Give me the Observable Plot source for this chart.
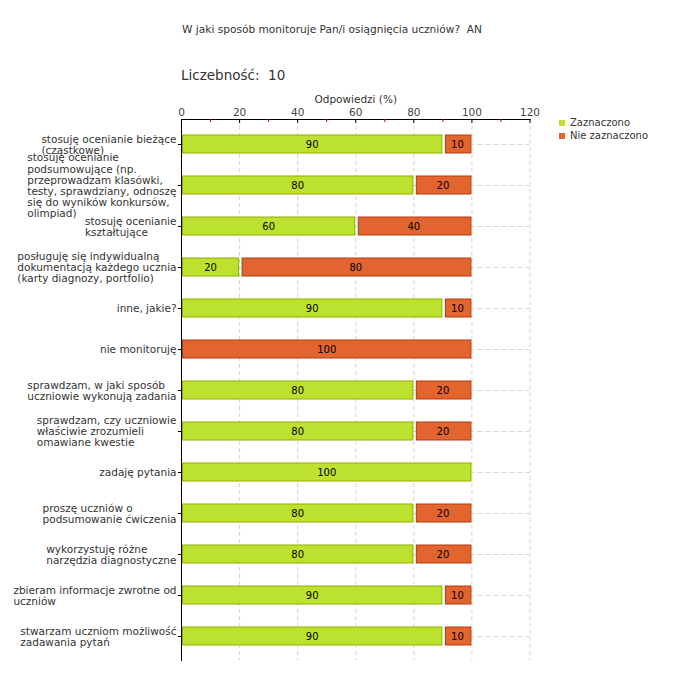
<!DOCTYPE html>
<html>
<head>
<meta charset="utf-8">
<script src="https://cdn.jsdelivr.net/npm/d3@7"></script>
<script src="https://cdn.jsdelivr.net/npm/@observablehq/plot@0.6"></script>
<style>
  body { margin: 0; background: #fff; font-family: "DejaVu Sans", sans-serif; }
  #wrap { position: relative; width: 680px; height: 680px; overflow: hidden; }
  #head { position: relative; height: 85px; }
  #title { position: absolute; left: 182px; top: 23px; font-size: 10.6px; color: #333; white-space: pre; }
  #count { position: absolute; left: 181px; top: 67px; font-size: 13.5px; color: #333; white-space: pre; }
  #legend { position: absolute; left: 559px; top: 117px; font-size: 10px; color: #333; line-height: 12.5px; }
  #legend .sw { display: inline-block; width: 6px; height: 6px; margin-right: 5px; vertical-align: 0px; }
</style>
</head>
<body>
<div id="wrap">
  <div id="head">
    <div id="title"></div>
    <div id="count"></div>
  </div>
  <div id="chart"></div>
  <div id="legend"></div>
</div>
<script>
const titleText = "W jaki sposób monitoruje Pan/i osiągnięcia uczniów?  AN";
const countText = "Liczebność:  10";
const xAxisLabel = "Odpowiedzi (%)";

const categories = [
  "stosuję ocenianie bieżące\n(cząstkowe)",
  "stosuję ocenianie\npodsumowujące (np.\nprzeprowadzam klasówki,\ntesty, sprawdziany, odnoszę\nsię do wyników konkursów,\nolimpiad)",
  "stosuję ocenianie\nkształtujące",
  "posługuję się indywidualną\ndokumentacją każdego ucznia\n(karty diagnozy, portfolio)",
  "inne, jakie?",
  "nie monitoruję",
  "sprawdzam, w jaki sposób\nuczniowie wykonują zadania",
  "sprawdzam, czy uczniowie\nwłaściwie zrozumieli\nomawiane kwestie",
  "zadaję pytania",
  "proszę uczniów o\npodsumowanie ćwiczenia",
  "wykorzystuję różne\nnarzędzia diagnostyczne",
  "zbieram informacje zwrotne od\nuczniów",
  "stwarzam uczniom możliwość\nzadawania pytań"
];
const zaznaczono    = [90, 80, 60, 20, 90,   0, 80, 80, 100, 80, 80, 90, 90];
const nieZaznaczono = [10, 20, 40, 80, 10, 100, 20, 20,   0, 20, 20, 10, 10];
const seriesNames = ["Zaznaczono", "Nie zaznaczono"];
const seriesFill = ["#bde12f", "#e2652f"];
const seriesStroke = ["#8fae00", "#b33a10"];
const xTicks = [0, 20, 40, 60, 80, 100, 120];
const xMinorTicks = [10, 30, 50, 70, 90, 110];
const xGrid = [20, 40, 60, 80, 100, 120];

document.getElementById("title").textContent = titleText;
document.getElementById("count").textContent = countText;
document.getElementById("legend").innerHTML = seriesNames.map((n, i) =>
  `<div><span class="sw" style="background:${seriesFill[i]}"></span>${n}</div>`).join("");

const rows = categories.map((c, i) => ({cat: c, a: zaznaczono[i], b: nieZaznaczono[i]}));
const greenRows = rows.filter(d => d.a > 0);
const orangeAfter = rows.filter(d => d.b > 0 && d.a > 0);
const orangeAlone = rows.filter(d => d.b > 0 && d.a === 0);

const gridStyle = {stroke: "#d4d4d4", strokeOpacity: 1, strokeDasharray: "5,3"};

const chart = Plot.plot({
  width: 680,
  height: 595,
  marginTop: 34,
  marginBottom: 20,
  marginLeft: 181,
  marginRight: 150.5,
  style: {fontFamily: "DejaVu Sans, sans-serif", fontSize: "10px", color: "#333", background: "transparent"},
  x: {domain: [0, 120], axis: null},
  y: {domain: categories, paddingInner: 0.565, paddingOuter: 0.2825, axis: null},
  marks: [
    Plot.gridX(xGrid, {...gridStyle, strokeDasharray: "4,3"}),
    Plot.gridY(categories, gridStyle),
    Plot.barX(greenRows, {y: "cat", x1: 0, x2: "a", fill: seriesFill[0], stroke: seriesStroke[0], insetLeft: 1.5, insetRight: 0.5}),
    Plot.barX(orangeAfter, {y: "cat", x1: "a", x2: d => d.a + d.b, fill: seriesFill[1], stroke: seriesStroke[1], insetLeft: 3, insetRight: 0.5}),
    Plot.barX(orangeAlone, {y: "cat", x1: "a", x2: d => d.a + d.b, fill: seriesFill[1], stroke: seriesStroke[1], insetLeft: 1.5, insetRight: 0.5}),
    Plot.text(greenRows, {y: "cat", x: d => d.a / 2, text: d => String(d.a), fill: "#000", fontSize: 10}),
    Plot.text(rows.filter(d => d.b > 0), {y: "cat", x: d => d.a + d.b / 2, text: d => String(d.b), fill: "#000", fontSize: 10}),
    Plot.frame({anchor: "top", stroke: "#000"}),
    Plot.frame({anchor: "left", stroke: "#000"}),
    Plot.axisX({anchor: "top", ticks: xMinorTicks, tickSize: 3, dy: 2, stroke: "#d00", text: null, label: null}),
    Plot.axisX({anchor: "top", ticks: xTicks, tickSize: 4, dy: 3, stroke: "#000", text: null, label: null}),
    Plot.axisX({anchor: "top", ticks: xTicks, tickSize: 0, tickPadding: 4, fontSize: 10.5, fill: "#444", label: null}),
    Plot.text([xAxisLabel], {frameAnchor: "top", dy: -24, text: d => d, fontSize: 10.5, fill: "#333"}),
    Plot.axisY({tickSize: 3, tickPadding: 2, fontSize: 10.5, lineHeight: 1.05, fill: "#333", stroke: "#000", label: null})
  ]
});
document.getElementById("chart").appendChild(chart);

// left-align the lines of each multi-line category label within its right-aligned block
chart.querySelectorAll('g[aria-label="y-axis tick label"] text').forEach(t => {
  const spans = t.querySelectorAll("tspan");
  if (spans.length < 2) return;
  let maxW = 0;
  spans.forEach(s => { maxW = Math.max(maxW, s.getComputedTextLength()); });
  t.setAttribute("text-anchor", "start");
  spans.forEach(s => s.setAttribute("x", -maxW));
});
</script>
</body>
</html>
